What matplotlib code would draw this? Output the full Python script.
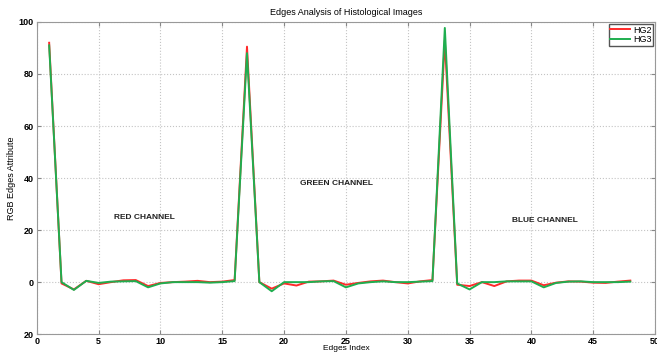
import matplotlib
matplotlib.use("Agg")
import matplotlib.pyplot as plt
import numpy as np

plt.rcParams['font.family'] = ['Liberation Sans', 'DejaVu Sans']

edges = np.arange(1, 49)
hg2 = [92, -0.5, -2.8, 0.5, -0.8, 0, 0.7, 0.8, -1.5, -0.3, 0, 0.2, 0.5, 0, 0.2, 0.8,
       90.5, 0, -2.5, -0.5, -1.3, 0.2, 0.3, 0.6, -1, -0.3, 0.3, 0.6, 0, -0.5, 0.3, 0.8,
       93, -1, -1.5, 0, -1.5, 0.3, 0.6, 0.6, -1.2, -0.2, 0.3, 0.2, -0.2, -0.3, 0.2, 0.6]
hg3 = [91, 0, -3, 0.5, -0.3, 0.2, 0.3, 0.4, -2, -0.5, 0, 0, 0, -0.2, 0, 0.4,
       88, 0, -3.5, 0, 0, 0, 0.3, 0.4, -2, -0.5, 0, 0.3, 0, 0, 0.2, 0.4,
       97.7, -0.5, -2.8, 0, 0, 0.3, 0.3, 0.3, -2, -0.3, 0.2, 0.3, 0, 0, 0, 0.2]
channel_labels = ["RED CHANNEL", "GREEN CHANNEL", "BLUE CHANNEL"]
label_pos = [(8.7, 25), (24.2, 38), (41.1, 23.6)]
yticks = [-20, 0, 20, 40, 60, 80, 100]
ytick_labels = ["20", "0", "20", "40", "60", "80", "100"]

fig = plt.figure(figsize=(6.57, 3.54), dpi=100)
ax = fig.add_axes([0.056, 0.056, 0.941, 0.882])

ax.plot(edges, hg2, color='#ff2a2a', linewidth=1.4, label='HG2')
ax.plot(edges, hg3, color='#1fae4f', linewidth=1.4, label='HG3')

for txt, (x, y) in zip(channel_labels, label_pos):
    ax.text(x, y, txt, fontsize=6, fontweight='bold', color='#222222', ha='center', va='center')

ax.set_xlim(0, 50)
ax.set_ylim(-20, 100)
ax.set_xticks(range(0, 51, 5))
ax.set_yticks(yticks)
ax.set_yticklabels(ytick_labels)
ax.tick_params(direction='in', top=True, right=True, labelsize=6.5, length=3, pad=2, color='#888888')
for lab in ax.get_xticklabels() + ax.get_yticklabels():
    lab.set_fontweight('bold')
ax.grid(True, linestyle=':', color='#c4c4c4', linewidth=0.8)
for s in ax.spines.values():
    s.set_color('#999999')

ax.set_title("Edges Analysis of Histological Images", fontsize=6.5, pad=5)
ax.set_xlabel("Edges Index", fontsize=6, labelpad=-1)
ax.set_ylabel("RGB Edges Attribute", fontsize=6.5, labelpad=2)

leg = ax.legend(loc='upper right', fontsize=6.5, handlelength=2.2, handletextpad=0.3,
                borderaxespad=0.2, fancybox=False, framealpha=1, borderpad=0.2,
                labelspacing=0.1)
leg.get_frame().set_edgecolor('#555555')

fig.savefig('out.png', dpi=100)
